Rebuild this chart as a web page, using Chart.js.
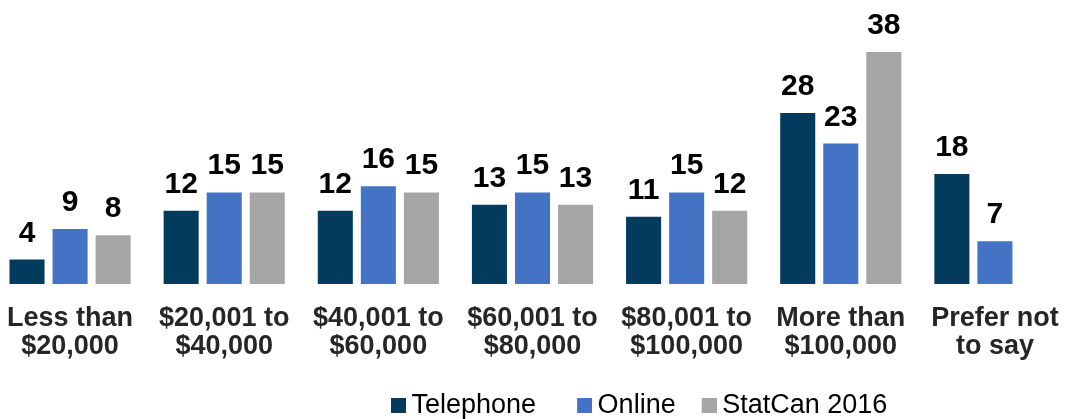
<!DOCTYPE html>
<html>
<head>
<meta charset="utf-8">
<script src="https://cdn.jsdelivr.net/npm/chart.js@4/dist/chart.umd.min.js"></script>
<style>
  html, body { margin: 0; padding: 0; background: #fff; }
  #wrap { width: 1069px; height: 419px; }
</style>
</head>
<body>
<div id="wrap"><canvas id="income"></canvas></div>
<script>
const categories = [
  ["Less than", "$20,000"],
  ["$20,001 to", "$40,000"],
  ["$40,001 to", "$60,000"],
  ["$60,001 to", "$80,000"],
  ["$80,001 to", "$100,000"],
  ["More than", "$100,000"],
  ["Prefer not", "to say"]
];
const telephone = [4, 12, 12, 13, 11, 28, 18];
const online = [9, 15, 16, 15, 15, 23, 7];
const statcan = [8, 15, 15, 13, 12, 38, null];

const FONT = "'Liberation Sans', Arial, sans-serif";
const colors = ["#023B5E", "#4472C4", "#A5A5A5"];

// legend marker: square on the right half so the label sits close to it
function marker(color) {
  const c = document.createElement("canvas");
  c.width = 31;
  c.height = 15;
  const g = c.getContext("2d");
  g.fillStyle = color;
  g.fillRect(16, 0, 15, 15);
  return c;
}

// value labels above each bar
const barLabels = {
  id: "barLabels",
  afterDatasetsDraw(chart) {
    const ctx = chart.ctx;
    ctx.save();
    ctx.font = "bold 30px " + FONT;
    ctx.fillStyle = "#000";
    ctx.textAlign = "center";
    ctx.textBaseline = "alphabetic";
    chart.data.datasets.forEach((ds, i) => {
      chart.getDatasetMeta(i).data.forEach((bar, j) => {
        if (ds.data[j] == null) return;
        ctx.fillText(ds.data[j], bar.x, bar.y - 18);
      });
    });
    ctx.restore();
  }
};

// the original's plot runs a little past the canvas edges, and its legend sits right of centre
const fixLayout = {
  id: "fixLayout",
  afterLayout(chart) {
    const x = chart.scales.x;
    x.left = -7;
    x.right = 1072;
    x.width = 1079;
    x.configure();
    chart.legend.left = 380;
    chart.legend.right = 1069;
    chart.legend.top += 10;
    chart.legend.bottom += 10;
  }
};

new Chart(document.getElementById("income"), {
  type: "bar",
  data: {
    labels: categories,
    datasets: [
      { label: "Telephone", data: telephone, backgroundColor: colors[0] },
      { label: "Online", data: online, backgroundColor: colors[1] },
      { label: "StatCan 2016", data: statcan, backgroundColor: colors[2] }
    ]
  },
  options: {
    responsive: true,
    maintainAspectRatio: false,
    animation: false,
    layout: { padding: { top: 52, left: 0, right: 0, bottom: 0 } },
    datasets: {
      bar: { categoryPercentage: 0.838, barPercentage: 0.814 }
    },
    plugins: {
      legend: {
        position: "bottom",
        align: "start",
        labels: {
          usePointStyle: true,
          boxWidth: 15,
          boxHeight: 15,
          padding: 3,
          color: "#000",
          font: { family: FONT, size: 27 },
          generateLabels(chart) {
            const items = Chart.defaults.plugins.legend.labels.generateLabels(chart);
            items.forEach((it, i) => {
              it.pointStyle = marker(colors[i]);
              it.lineWidth = 0;
            });
            items[0].text += "    ";
            items[1].text += "  ";
            return items;
          }
        }
      },
      tooltip: { enabled: false }
    },
    scales: {
      x: {
        grid: { display: false },
        border: { display: false },
        ticks: {
          color: "#262626",
          padding: 13,
          maxRotation: 0,
          autoSkip: false,
          font: { family: FONT, size: 27, weight: "bold", lineHeight: 1.02 }
        },
        afterFit(scale) { scale.height = 95; }
      },
      y: {
        display: false,
        min: 0,
        max: 38
      }
    }
  },
  plugins: [barLabels, fixLayout]
});
</script>
</body>
</html>
